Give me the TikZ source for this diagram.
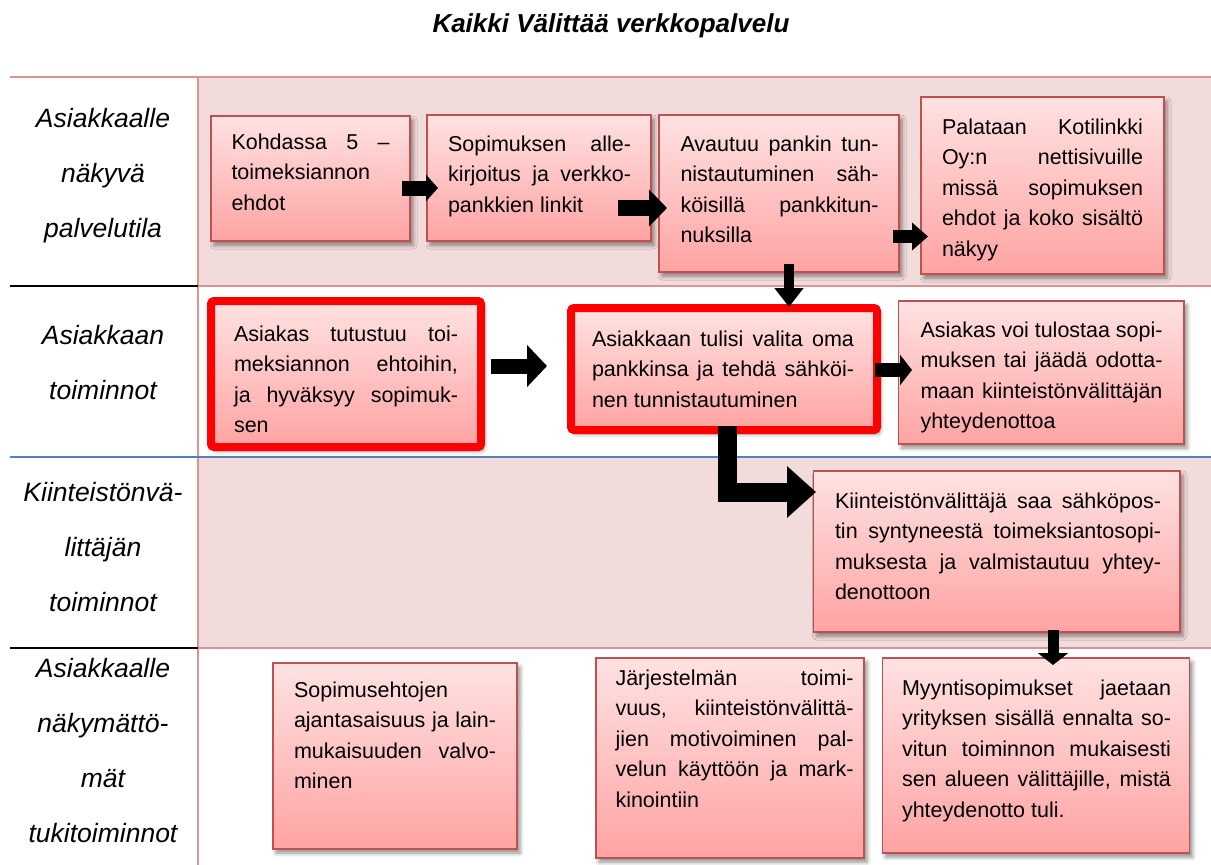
\documentclass[tikz,border=0pt]{standalone}
\usepackage{fontspec}
\setmainfont{Liberation Sans}
\usetikzlibrary{arrows.meta,calc,shadows.blur}

\definecolor{rowpink}{RGB}{242,220,219}
\definecolor{rulepink}{RGB}{217,149,148}
\definecolor{ruleblue}{RGB}{79,129,189}
\definecolor{boxedge}{RGB}{192,80,77}
\definecolor{boxtop}{RGB}{255,226,226}
\definecolor{boxbottom}{RGB}{255,163,163}

% one justified line of a box text
\newcommand\jl[1]{\makebox[\linewidth][s]{#1}\par}
% box body: width, height, left padding, text width, first baseline offset, lines
\newcommand\boxtext[6]{\parbox[c][#2pt][t]{#1pt}{\vspace*{\dimexpr#5pt-20pt\relax}\hspace*{#3pt}\rule{0pt}{20pt}\parbox[t]{#4pt}{#6}}}

\tikzset{
  procbox/.style={draw=boxedge, line width=1.5pt, top color=boxtop, bottom color=boxbottom,
    inner sep=0pt, outer sep=0pt, anchor=north west,
    font=\fontsize{21.5}{30.5}\selectfont,
    blur shadow={shadow xshift=3pt, shadow yshift=-4pt, shadow blur radius=4pt, shadow opacity=45}},
  keybox/.style={procbox, draw=red, line width=8pt, rounded corners=3pt},
  lanelabel/.style={font=\fontsize{26.5}{55}\selectfont\itshape, align=center, inner sep=0pt},
  flow/.style n args={3}{draw=black, line width=#1pt, line join=miter,
    -{Triangle[width=#2pt,length=#3pt]}},
  pinkrule/.style={draw=rulepink, line width=1.5pt},
}

\begin{document}
\begin{tikzpicture}[x=1pt,y=-1pt]
\useasboundingbox (0,0) rectangle (1211,865);

% lane backgrounds
\fill[rowpink] (198,77) rectangle (1211,286);
\fill[rowpink] (198,457) rectangle (1211,648);

% lane rules
\draw[pinkrule] (10,77) -- (1211,77);
\draw[pinkrule] (198,77) -- (198,865);
\draw[pinkrule] (198,286) -- (1211,286);
\draw[black, line width=2pt] (10,286) -- (198,286);
\draw[ruleblue, line width=2pt] (10,457) -- (1211,457);
\draw[pinkrule] (198,648) -- (1211,648);
\draw[black, line width=2pt] (10,648) -- (198,648);

% title
\node[font=\fontsize{26}{30}\selectfont\bfseries\itshape, anchor=base] (title) at (611,32) {Kaikki Välittää verkkopalvelu};

% lane labels
\node[lanelabel] (lane1) at (103,176) {Asiakkaalle\\näkyvä\\palvelutila};
\node[lanelabel] (lane2) at (103,363) {Asiakkaan\\toiminnot};
\node[lanelabel] (lane3) at (103,547) {Kiinteistönvä-\\littäjän\\toiminnot};
\node[lanelabel] (lane4) at (103,751) {Asiakkaalle\\näkymättö-\\mät\\tukitoiminnot};

% visible service steps
\node[procbox] (k1) at (211,116) {\boxtext{199}{125}{20.5}{158}{33}{%
  \jl{Kohdassa 5 –}toimeksiannon\par ehdot}};
\node[procbox] (k2) at (427,115) {\boxtext{224}{126}{21}{183}{36}{%
  \jl{Sopimuksen alle-}\jl{kirjoitus ja verkko-}pankkien linkit}};
\node[procbox] (k3) at (659,115) {\boxtext{240}{157}{21.5}{198}{36}{%
  \jl{Avautuu pankin tun-}\jl{nistautuminen säh-}\jl{köisillä pankkitun-}nuksilla}};
\node[procbox] (k4) at (921,97) {\boxtext{243}{177}{21}{201}{37}{%
  \jl{Palataan Kotilinkki}\jl{Oy:n nettisivuille}\jl{missä sopimuksen}\jl{ehdot ja koko sisältö}näkyy}};

% customer actions
\node[keybox] (kA) at (211,301) {\boxtext{270}{146}{23}{224}{40}{%
  \jl{Asiakas tutustuu toi-}\jl{meksiannon ehtoihin,}\jl{ja hyväksyy sopimuk-}sen}};
\node[keybox] (k5) at (571,308) {\boxtext{306}{122}{21}{262}{38}{%
  \jl{Asiakkaan tulisi valita oma}\jl{pankkinsa ja tehdä sähköi-}nen tunnistautuminen}};
\node[procbox] (k6) at (898.5,301) {\boxtext{285.5}{143}{22}{242}{36}{%
  \jl{Asiakas voi tulostaa sopi-}\jl{muksen tai jäädä odotta-}\jl{maan kiinteistönvälittäjän}yhteydenottoa}};

% agent actions
\node[procbox] (k7) at (813.5,471) {\boxtext{366.5}{161}{21.5}{326}{37}{%
  \jl{Kiinteistönvälittäjä saa sähköpos-}\jl{tin syntyneestä toimeksiantosopi-}\jl{muksesta ja valmistautuu yhtey-}denottoon}};

% support processes
\node[procbox] (k8) at (273,663) {\boxtext{244}{186}{21}{202}{34}{%
  Sopimusehtojen\par\jl{ajantasaisuus ja lain-}\jl{mukaisuuden valvo-}minen}};
\node[procbox] (k9) at (596,658) {\boxtext{268}{200}{19.5}{238}{27}{%
  \jl{Järjestelmän toimi-}\jl{vuus, kiinteistönvälittä-}\jl{jien motivoiminen pal-}\jl{velun käyttöön ja mark-}kinointiin}};
\node[procbox] (k10) at (882.5,658) {\boxtext{307}{195}{19.5}{269}{37}{%
  \jl{Myyntisopimukset jaetaan}\jl{yrityksen sisällä ennalta so-}\jl{vitun toiminnon mukaisesti}\jl{sen alueen välittäjille, mistä}yhteydenotto tuli.}};

% flow arrows
\draw[flow={15}{26}{12}] ($(k1.east)+(-8,9.5)$) -- ($(k2.west)+(11,10)$);
\draw[flow={16}{36}{18}] ($(k2.east)+(-33,30)$) -- ($(k3.west)+(8,14.5)$);
\draw[flow={13}{27}{16}] ($(k3.east)+(-6,43)$) -- ($(k4.west)+(7,51)$);
\draw[flow={10}{28}{19}] ($(k3.south)+(10,-8)$) -- ($(k3.south |- k5.north)+(10,-1)$);
\draw[flow={15}{41}{20}] ($(kA.east)+(10,-8)$) -- ($(k5.west)+(-24,-3)$);
\draw[flow={14}{30}{12}] ($(k5.east)+(-2,1)$) -- ($(k6.west)+(13.5,-2.5)$);
\draw[flow={19}{50}{29}] ($(k5.south)+(3,-4)$) |- ($(k7.west)+(2.5,-59.5)$);
\draw[flow={11}{30}{12}] ($(k7.south)+(56.25,-2)$) -- ($(k7.south |- k10.north)+(56.25,7)$);
\end{tikzpicture}
\end{document}
